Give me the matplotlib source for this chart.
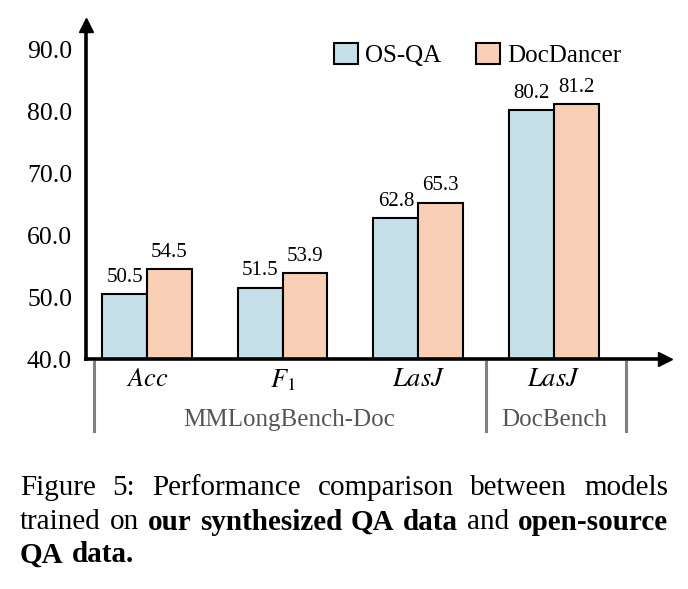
import matplotlib
matplotlib.use("Agg")
import matplotlib.pyplot as plt
import numpy as np

plt.rcParams['font.family'] = ['Liberation Serif', 'DejaVu Serif']
plt.rcParams['mathtext.fontset'] = 'stix'

metrics = ['$Acc$', '$F_{\\mathrm{1}}$', '$LasJ$', '$LasJ$']
os_qa = [50.5, 51.5, 62.8, 80.2]
docdancer = [54.5, 53.9, 65.3, 81.2]
series_names = ['OS-QA', 'DocDancer']
benchmarks = ['MMLongBench-Doc', 'DocBench']
yticks = [40, 50, 60, 70, 80, 90]

caption = [
    [('Figure', False), ('5:', False), ('Performance', False), ('comparison', False),
     ('between', False), ('models', False)],
    [('trained', False), ('on', False), ('our', True), ('synthesized', True), ('QA', True),
     ('data', True), ('and', False), ('open-source', True)],
    [('QA', True), ('data.', True)],
]

fig = plt.figure(figsize=(6.88, 5.89), dpi=100)
ax = fig.add_axes([86/688, 1 - 359/589, (665 - 86)/688, (359 - 25)/589])

x = np.arange(len(os_qa))
w = 0.33
b1 = ax.bar(x - w/2, np.array(os_qa) - 40, w, bottom=40, color='#c6e0ea', edgecolor='black', linewidth=1.5, label=series_names[0])
b2 = ax.bar(x + w/2, np.array(docdancer) - 40, w, bottom=40, color='#f9d0b6', edgecolor='black', linewidth=1.5, label=series_names[1])
for bars, vals in ((b1, os_qa), (b2, docdancer)):
    for r, v in zip(bars, vals):
        ax.text(r.get_x() + r.get_width()/2, v + 1.2, '%.1f' % v, ha='center', va='bottom', fontsize=15)

ax.set_xlim(-0.45, 3.82)
ax.set_ylim(40, 94.0)
ax.set_yticks(yticks)
ax.set_yticklabels(['%.1f' % t for t in yticks], fontsize=18.5)
ax.tick_params(axis='y', length=0, pad=10)
ax.set_xticks([])
for s in ['top', 'right']:
    ax.spines[s].set_visible(False)
for s in ['left', 'bottom']:
    ax.spines[s].set_linewidth(2.6)
ax.plot(1, 40, '>k', markersize=10, transform=ax.get_yaxis_transform(), clip_on=False)
ax.plot(-0.45, 1, '^k', markersize=10, transform=ax.get_xaxis_transform(), clip_on=False)

# category labels and group separators under the axis
trans = ax.get_xaxis_transform()
for xi, m in zip(x, metrics):
    ax.text(xi, -0.063, m, ha='center', va='center', fontsize=19, transform=trans)
for xs in [-0.39, 2.5, 3.53]:
    ax.plot([xs, xs], [-0.008, -0.215], color='#808080', lw=2.2, transform=trans, clip_on=False)
ax.text(1.05, -0.182, benchmarks[0], ha='center', va='center', fontsize=18, color='#555555', transform=trans)
ax.text(3.0, -0.182, benchmarks[1], ha='center', va='center', fontsize=18, color='#555555', transform=trans)

fig.legend(handles=[b1, b2], labels=series_names, loc='center left', bbox_to_anchor=(334/688, 1 - 55/589),
           ncol=2, frameon=False, fontsize=18, borderpad=0, borderaxespad=0,
           handlelength=0.95, handleheight=0.95, handletextpad=0.3, columnspacing=1.4)

# justified caption
fig.canvas.draw()
renderer = fig.canvas.get_renderer()
left, right = 20/688, 668/688
line_y = [1 - 488/589, 1 - 522/589, 1 - 555/589]
for i, words in enumerate(caption):
    texts = [fig.text(0, line_y[i], wd, fontsize=21, fontweight='bold' if bd else 'normal', va='center')
             for wd, bd in words]
    widths = [t.get_window_extent(renderer).width / fig.bbox.width for t in texts]
    if i < len(caption) - 1:
        gap = (right - left - sum(widths)) / (len(words) - 1)
    else:
        gap = 0.28 * 21 / 72 * 100 / fig.bbox.width
    pos = left
    for t, wdt in zip(texts, widths):
        t.set_x(pos)
        pos += wdt + gap

fig.savefig('out.png', dpi=100)
